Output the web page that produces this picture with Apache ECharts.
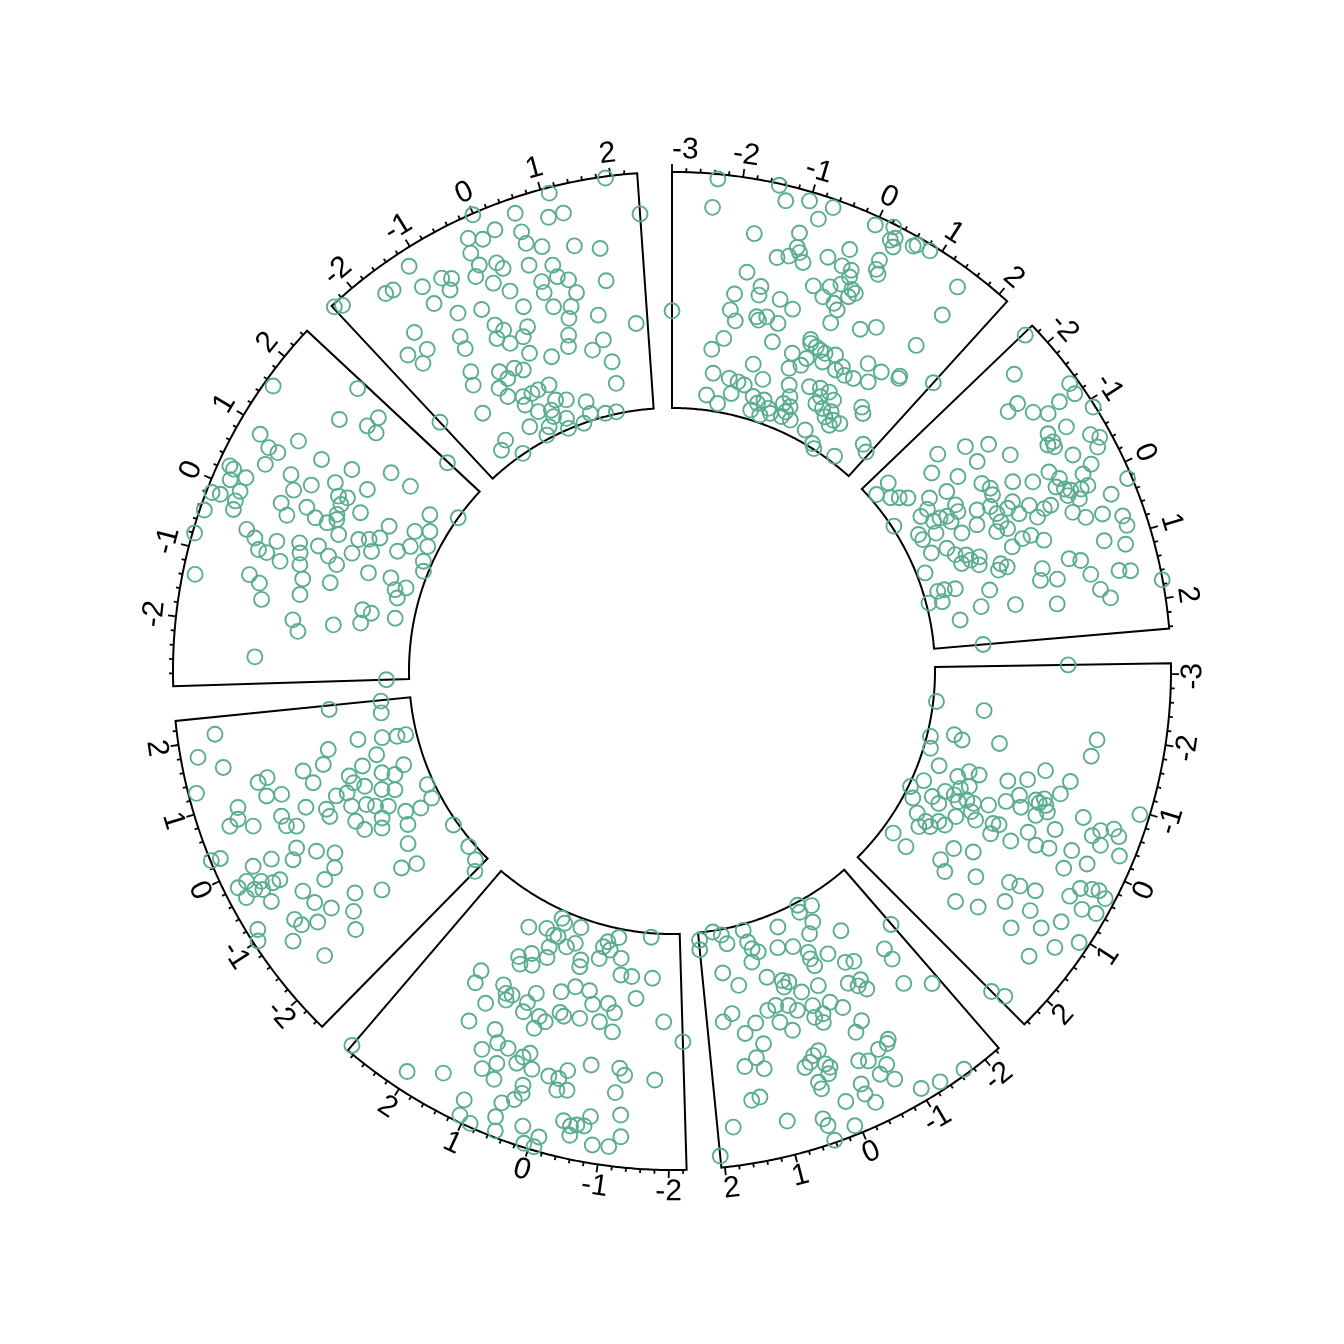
<!DOCTYPE html>
<html><head><meta charset="utf-8">
<script src="https://cdn.jsdelivr.net/npm/echarts/dist/echarts.min.js"></script>
<style>html,body{margin:0;padding:0;background:#fff}#c{width:1344px;height:1344px}</style>
</head><body><div id="c"></div>
<script>
// ---- data ----
const sectorNames = ['a','b','c','d','e','f','g','h'];
const xlims = [[-3.0,2.15],[-2.32,2.43],[-3.15,2.46],[-2.25,2.05],[-2.25,2.90],[-2.51,2.34],[-2.98,2.48],[-2.38,2.38]];
const ylim = [-2.95, 2.95];
const majorTicks = [
  [-3,-2,-1,0,1,2],[-2,-1,0,1,2],[-3,-2,-1,0,1,2],[-2,-1,0,1,2],
  [-2,-1,0,1,2],[-2,-1,0,1,2],[-2,-1,0,1,2],[-2,-1,0,1,2]
];
const pointsA = [[-2.35,2.83],[-2.39,2.11],[-1.48,2.91],[-1.34,2.57],[-1.01,2.72],[-0.66,2.74],[-0.81,2.35],[-1.70,1.60],[-1.02,1.88],[-0.99,1.52],[-0.93,1.41],[-1.08,1.25],[-1.26,1.14],[-0.83,1.20],[-0.48,1.53],[-0.21,1.91],[-1.70,0.62],[-0.22,1.46],[-0.06,1.45],[-0.54,0.73],[-0.27,0.86],[-0.12,1.03],[-0.04,1.28],[0.08,1.02],[0.16,0.97],[0.08,0.82],[-1.85,0.03],[-1.41,0.12],[-1.41,0.34],[-1.02,0.15],[-0.75,0.01],[-0.32,0.56],[-0.10,0.52],[0.00,0.40],[-1.88,-0.38],[-1.75,-0.63],[-1.36,-0.42],[-1.31,-0.49],[-1.17,-0.36],[-0.93,-0.44],[-0.01,0.04],[0.52,0.23],[0.75,0.47],[-0.01,2.73],[0.24,2.88],[0.28,2.55],[0.33,2.65],[0.36,2.43],[0.61,2.69],[0.65,2.76],[0.85,2.80],[0.29,1.74],[0.27,1.98],[0.35,1.65],[1.47,2.44],[1.54,1.65],[-3.00,-0.52],[1.50,0.65],[-2.14,-1.42],[-1.92,-1.11],[-1.19,-1.59],[-0.93,-0.92],[-0.23,-0.54],[-0.20,-0.63],[-0.07,-0.66],[0.03,-0.69],[0.14,-0.71],[-0.47,-1.03],[-0.16,-1.02],[-0.21,-1.23],[-0.42,-1.41],[0.17,-0.93],[0.34,-0.63],[0.48,-0.96],[0.57,-0.81],[0.69,-0.97],[0.88,-0.92],[0.97,-0.41],[1.17,-0.79],[1.27,-0.40],[1.60,-0.21],[1.61,-0.27],[-2.04,-2.01],[-1.65,-2.07],[-1.43,-2.11],[-1.27,-2.15],[-0.89,-1.89],[-2.13,-2.57],[-1.82,-2.74],[-1.53,-2.43],[-0.99,-2.37],[-0.84,-2.50],[-0.71,-2.37],[-0.54,-2.53],[-0.95,-2.71],[-0.69,-2.76],[-0.45,-2.63],[-0.16,-2.60],[0.08,-2.59],[-0.24,-2.28],[-0.06,-2.29],[-0.11,-2.45],[-0.28,-1.80],[-0.16,-2.06],[0.15,-1.63],[0.38,-1.54],[0.59,-1.52],[0.47,-1.73],[0.76,-1.64],[0.45,-1.93],[0.64,-1.96],[0.85,-1.92],[0.79,-2.11],[1.00,-2.07],[1.17,-2.05],[0.98,-2.23],[0.53,-2.64],[0.87,-2.84],[0.97,-2.93],[1.53,-2.79],[1.36,-1.40],[1.46,-1.51],[1.90,-2.11],[2.07,-2.21],[2.15,0.20]];
const pointsB = [[-2.29,2.66],[-1.97,1.80],[-1.35,2.74],[-1.19,2.70],[-0.89,2.90],[-1.58,1.40],[-1.57,1.09],[-1.32,1.58],[-1.17,1.87],[-1.22,2.27],[-0.85,2.07],[-0.91,1.59],[-0.76,1.59],[-0.76,1.44],[-0.68,1.56],[-0.57,2.49],[-0.47,2.66],[-0.36,2.50],[-0.95,0.51],[-0.43,1.86],[-0.18,2.16],[-0.10,1.87],[-0.37,1.13],[-0.52,0.22],[-0.35,0.66],[-0.20,1.29],[-0.10,1.12],[-0.01,1.29],[0.05,1.42],[0.11,1.30],[0.10,1.67],[0.09,1.86],[0.35,2.31],[0.23,2.84],[-0.20,-0.02],[-0.13,-0.20],[-0.01,0.32],[0.05,0.00],[0.15,0.63],[0.24,0.39],[0.14,0.81],[0.39,1.25],[0.23,1.53],[0.54,1.51],[0.58,1.93],[0.71,2.39],[0.86,2.42],[0.05,-0.50],[0.22,-0.41],[0.50,-0.16],[0.50,0.07],[0.66,0.33],[0.58,-0.47],[0.98,1.76],[1.12,2.25],[1.10,0.79],[1.18,1.06],[1.44,1.22],[1.48,1.93],[1.52,2.21],[0.82,-0.88],[0.92,-0.75],[1.14,0.08],[1.34,-0.04],[1.39,0.38],[1.71,1.38],[1.87,1.59],[1.74,2.94],[1.69,-0.78],[1.82,0.25],[-1.54,-0.29],[-1.32,0.21],[-1.76,-0.95],[-1.18,-0.27],[-1.53,-1.36],[-1.15,-0.88],[-1.98,-2.36],[-1.95,-2.77],[-1.02,-1.32],[-0.78,-0.47],[-0.62,-0.35],[-0.49,-0.38],[-1.40,-2.21],[-1.11,-1.77],[-1.66,-2.55],[-1.53,-2.38],[-1.02,-2.90],[-0.86,-2.20],[-0.92,-1.97],[-0.61,-1.99],[-0.60,-1.81],[-0.56,-1.64],[-0.41,-1.61],[-0.53,-1.34],[-0.68,-1.31],[-0.37,-0.90],[-0.31,-0.57],[-0.13,-0.50],[-0.51,-2.48],[-0.35,-2.45],[-0.34,-2.08],[-0.08,-1.50],[-0.10,-1.07],[0.19,-0.69],[0.04,-2.40],[0.09,-2.00],[0.30,-1.87],[0.40,-1.62],[0.54,-1.56],[0.54,-1.33],[0.70,-1.40],[0.54,-1.80],[0.93,-0.98],[0.44,-2.74],[0.99,-2.59],[1.00,-2.42],[1.05,-2.15],[1.22,-2.88],[1.27,-2.55],[1.28,-1.33],[1.59,-1.63],[1.80,-2.21],[2.43,-1.72]];
const pointsC = [[-3.15,0.38],[-1.52,-1.14],[-1.92,1.24],[-1.64,1.17],[-1.22,0.14],[-0.97,-0.23],[-0.83,-0.69],[-1.15,0.81],[-0.90,0.66],[-0.44,-0.56],[-0.64,-0.30],[-0.44,-0.16],[-0.66,0.13],[-0.63,0.23],[-0.73,0.32],[-0.63,0.41],[-0.53,0.50],[-0.40,0.26],[0.03,-0.49],[-0.65,1.39],[-0.96,2.71],[-0.07,0.25],[0.21,-0.05],[-0.30,0.84],[-0.43,1.76],[-0.55,1.91],[-0.64,2.21],[-0.56,2.39],[-0.34,2.04],[0.08,0.56],[0.03,0.89],[-0.09,1.43],[-0.30,2.58],[0.22,1.44],[0.00,1.92],[0.87,0.43],[0.83,0.70],[1.19,0.60],[0.76,1.09],[0.56,1.90],[0.38,2.04],[0.31,2.31],[0.28,2.48],[0.34,2.71],[0.64,2.33],[0.59,2.69],[1.08,1.25],[1.49,1.11],[1.21,1.72],[0.96,2.05],[1.07,2.71],[1.33,2.28],[1.67,1.90],[2.37,2.11],[-2.24,-2.87],[-2.16,-1.66],[-1.31,-2.86],[-1.01,-2.78],[-1.49,-2.29],[-1.41,-2.07],[-0.66,-2.44],[-0.57,-1.91],[-0.76,-1.68],[-0.76,-1.42],[-0.17,-2.66],[0.11,-2.90],[0.35,-2.72],[0.10,-2.30],[0.18,-2.08],[-0.14,-2.06],[-0.15,-1.82],[-0.34,-1.74],[-0.45,-1.55],[-0.05,-1.66],[-0.16,-1.48],[-0.15,-1.29],[0.03,-1.26],[-0.24,-0.93],[0.63,-2.44],[0.70,-2.15],[0.89,-2.23],[0.75,-1.99],[0.55,-1.87],[0.55,-1.69],[0.27,-1.55],[0.15,-1.07],[0.06,-0.64],[0.26,-0.58],[1.38,-2.67],[1.46,-2.21],[1.24,-1.32],[1.39,-1.06],[0.89,-1.20],[0.74,-0.74],[1.12,-0.35],[1.73,-0.39],[1.55,0.14],[2.46,1.79]];
const pointsD = [[-0.70,-2.88],[-0.66,-2.70],[-1.01,-2.70],[-0.83,-2.33],[0.00,-2.60],[-1.29,-1.78],[-0.63,-2.11],[1.66,-2.92],[1.45,-2.81],[2.03,-2.76],[2.05,-2.52],[0.87,-2.80],[0.84,-2.49],[1.35,-2.57],[0.78,-2.30],[0.66,-2.18],[0.87,-1.98],[0.19,-2.12],[-0.15,-2.00],[-0.41,-1.71],[-0.39,-1.54],[-0.41,-1.34],[-0.78,-1.45],[-1.01,-1.05],[-1.17,-0.96],[-1.82,-0.78],[-1.82,-0.46],[1.58,-1.87],[1.28,-1.49],[0.64,-1.51],[0.35,-1.31],[0.23,-1.22],[0.36,-1.14],[0.06,-0.87],[-0.30,-0.85],[-0.85,-0.56],[-1.09,-0.48],[-0.99,-0.38],[-1.10,-0.20],[-1.72,0.20],[-2.11,0.64],[1.73,-0.66],[1.53,-0.83],[1.11,-0.48],[0.82,-0.71],[0.64,-0.77],[0.40,-0.67],[0.27,-0.48],[0.66,-0.34],[0.48,-0.05],[-0.04,-0.45],[0.01,-0.16],[-0.16,-0.16],[-0.37,-0.35],[-0.54,-0.09],[-0.10,0.04],[-0.73,0.42],[1.35,-0.28],[-0.55,0.61],[-0.97,1.15],[1.06,0.07],[1.24,0.37],[1.47,0.53],[1.15,0.68],[0.17,0.65],[0.28,0.72],[0.37,0.85],[0.14,1.02],[0.09,1.14],[0.15,1.28],[0.48,0.93],[0.35,1.39],[0.34,1.57],[-0.38,1.28],[-0.52,1.39],[-0.75,1.25],[-0.92,1.23],[-0.75,1.68],[-0.59,1.82],[-0.75,2.10],[-0.26,1.83],[-0.25,2.10],[-0.34,2.40],[0.06,2.08],[1.46,1.39],[1.32,1.35],[1.81,1.98],[0.99,2.09],[0.47,2.29],[0.43,2.49],[0.41,2.89],[0.07,2.73],[-1.02,2.63],[-1.30,2.74],[-1.68,2.82],[2.05,2.66],[-2.24,-1.15]];
const pointsE = [[1.52,-2.19],[1.12,-2.37],[0.90,-2.29],[0.88,-2.76],[0.77,-2.67],[0.79,-2.30],[0.34,-2.72],[-1.50,-2.85],[-0.67,-2.73],[-0.42,-2.57],[-0.34,-2.42],[-0.52,-2.38],[0.34,-2.30],[0.51,-2.14],[0.88,-1.97],[1.40,-1.42],[1.30,-1.27],[1.18,-1.64],[1.06,-1.38],[0.83,-1.71],[0.09,-1.95],[0.07,-1.78],[-0.31,-2.11],[-0.82,-2.23],[-0.88,-1.82],[-1.13,-1.82],[-1.60,-1.83],[1.92,-0.64],[1.89,-0.31],[1.40,-0.62],[1.28,-0.46],[1.16,-0.49],[1.22,-0.31],[0.83,-0.48],[0.83,-0.23],[0.74,-0.78],[0.28,-1.04],[0.03,-1.27],[-0.28,-1.27],[-1.28,-1.29],[1.53,0.00],[-0.41,-0.96],[-0.72,-1.06],[-0.88,-0.86],[0.17,-0.54],[0.08,-0.48],[-0.23,-0.54],[0.52,-0.27],[0.38,-0.20],[1.63,0.59],[-0.62,-0.57],[-1.88,-0.75],[1.16,0.47],[-0.90,-0.38],[0.53,0.05],[2.90,2.79],[2.04,2.48],[1.57,2.04],[1.21,1.06],[1.07,1.49],[0.89,1.22],[0.83,1.61],[0.82,0.76],[1.02,0.74],[0.59,1.02],[0.53,0.82],[0.44,0.67],[0.32,1.03],[0.02,1.06],[-0.15,1.05],[-0.26,0.80],[-0.63,0.53],[-1.13,0.49],[-1.23,0.65],[-1.75,0.71],[1.11,2.39],[1.07,2.78],[0.89,2.86],[0.59,2.46],[0.52,2.79],[0.58,2.08],[0.42,1.89],[0.37,1.48],[0.34,1.68],[0.17,2.45],[0.08,2.85],[-0.07,2.86],[-0.10,2.59],[-0.17,1.34],[-0.33,1.28],[-0.39,2.04],[-0.51,2.13],[-0.60,2.07],[-0.71,2.06],[-0.78,1.80],[-0.53,2.36],[-0.88,2.49],[-1.12,2.47],[-1.11,1.11],[-1.24,1.65],[-1.28,2.19],[-2.25,-0.25]];
const pointsF = [[2.08,2.01],[1.78,2.52],[1.56,1.95],[1.28,2.75],[1.20,1.19],[1.24,0.94],[0.95,1.08],[0.90,0.71],[1.19,0.03],[0.93,-0.13],[1.21,-0.50],[1.47,-0.71],[2.26,-0.90],[0.91,1.85],[0.68,2.19],[0.74,1.94],[0.56,1.64],[0.55,0.89],[0.37,0.86],[0.30,0.63],[-0.04,0.85],[-0.19,1.06],[0.55,0.24],[0.23,-0.23],[0.38,-0.22],[0.31,2.93],[0.29,2.70],[-0.03,1.54],[-0.01,2.03],[-0.17,2.34],[-0.33,2.25],[-0.27,2.01],[-0.38,2.53],[-0.20,2.60],[-0.39,2.07],[-0.37,1.77],[-0.38,1.58],[-0.61,2.03],[-0.24,0.44],[-0.42,0.05],[-0.65,0.24],[-0.74,0.60],[-0.72,1.22],[-0.98,1.12],[-1.21,0.85],[-0.86,2.68],[-1.00,2.83],[-1.03,1.77],[-1.16,1.70],[-1.27,1.33],[-1.29,2.11],[-1.76,1.70],[2.32,-2.21],[2.04,-2.18],[1.54,-1.49],[1.46,-2.09],[1.41,-2.46],[1.40,-2.68],[1.11,-1.85],[0.69,-2.42],[0.96,-1.43],[0.68,-1.84],[0.54,-2.13],[0.84,-1.04],[0.68,-1.09],[0.53,-1.32],[0.33,-1.69],[0.21,-1.99],[0.53,-0.85],[0.55,-0.57],[0.25,-0.83],[0.16,-1.19],[0.05,-1.38],[-0.07,-1.67],[-0.24,-1.40],[-0.35,-2.00],[-0.45,-2.37],[0.00,-2.78],[-0.36,-2.73],[-0.06,-0.77],[-0.29,-0.88],[-0.43,-1.28],[-0.64,-1.89],[-1.25,-2.84],[-1.01,-1.64],[-1.94,-2.81],[-2.31,-2.71],[-2.51,-2.50],[-1.36,-1.16],[-1.48,-1.53],[-1.48,-0.44],[-1.23,0.15],[-1.48,0.45],[-1.75,0.69]];
const pointsG = [[1.57,2.73],[1.76,0.90],[0.88,2.35],[0.77,2.00],[0.77,1.74],[0.52,1.88],[1.09,1.44],[1.03,0.71],[0.27,2.66],[0.25,2.54],[0.09,2.51],[0.21,2.17],[-0.01,2.17],[-0.17,2.19],[-0.30,2.16],[-0.16,2.60],[-0.18,2.81],[-0.45,2.84],[-0.80,2.90],[0.56,1.19],[0.35,0.96],[0.56,0.62],[0.80,0.12],[0.61,-0.11],[0.07,1.11],[-0.08,0.86],[0.18,0.48],[0.07,0.18],[-0.52,1.68],[-0.61,1.42],[-0.77,1.25],[-0.78,1.03],[-0.55,0.87],[-0.86,0.65],[-0.45,0.32],[-0.62,0.23],[-0.82,0.15],[-0.39,-0.15],[-0.51,-0.47],[-0.62,-0.73],[0.07,-0.14],[0.20,-0.33],[-0.05,-0.52],[-1.06,-0.01],[-1.00,-0.70],[-1.20,1.31],[-1.30,1.02],[-1.56,0.89],[-1.35,-0.03],[-1.37,2.64],[-1.83,0.04],[-2.03,-0.12],[-1.82,-0.98],[-2.53,0.91],[2.35,1.04],[1.97,0.25],[2.21,0.17],[1.97,-0.03],[2.46,-1.87],[1.16,-0.07],[1.53,-0.93],[1.53,-1.52],[0.99,-0.66],[0.66,-0.33],[0.49,-0.26],[0.52,-0.79],[0.29,-0.28],[0.01,-1.03],[0.10,-1.27],[0.22,-1.50],[-0.12,-1.44],[-0.30,-1.00],[0.54,-1.58],[0.71,-2.21],[1.24,-2.32],[0.89,-2.54],[1.58,-2.95],[0.11,-2.04],[0.34,-2.28],[0.53,-2.67],[-0.58,-1.55],[-0.53,-2.12],[0.14,-2.73],[-0.10,-2.83],[-0.77,-2.31],[-0.65,-2.56],[-0.95,-2.42],[-1.40,-1.64],[-1.44,-1.87],[-1.70,-1.65],[-1.45,-2.48],[-2.98,-2.38]];
const pointsH = [[-1.16,2.54],[-1.67,2.32],[-1.55,2.28],[-1.16,1.93],[-0.84,1.86],[-0.71,1.73],[-0.82,1.50],[-0.01,2.92],[-0.21,2.43],[-0.02,2.26],[0.20,2.36],[-0.27,2.07],[-0.23,1.71],[0.03,1.58],[0.09,1.39],[-0.36,1.49],[-0.15,1.15],[0.05,0.80],[0.56,2.57],[0.56,2.08],[0.57,1.77],[1.11,2.81],[1.01,2.23],[1.24,2.24],[0.79,1.57],[0.50,1.23],[0.87,1.05],[0.89,0.74],[1.06,0.59],[0.61,0.74],[0.59,0.46],[1.29,1.38],[1.69,1.19],[1.14,0.23],[1.70,0.37],[1.93,2.91],[2.38,1.93],[-2.36,2.89],[-2.26,2.78],[-1.15,1.42],[-0.90,0.90],[-0.52,0.69],[-1.68,1.11],[0.16,0.31],[0.67,0.05],[0.98,-0.07],[0.88,-0.34],[1.44,-0.44],[2.15,-0.79],[-0.44,0.19],[-0.34,-0.02],[-0.52,-0.13],[-0.34,-0.39],[-0.06,-0.38],[0.09,-0.19],[-1.08,0.37],[-1.12,0.05],[-2.00,0.77],[-1.89,0.37],[-1.68,0.58],[-1.27,-0.51],[-1.38,-0.82],[-0.79,-0.89],[-0.71,-1.14],[-0.49,-0.99],[-0.08,-0.82],[-0.34,-1.13],[0.31,-1.11],[0.78,-0.74],[0.71,-1.01],[1.17,-1.26],[1.44,-1.07],[1.53,-1.65],[1.53,-2.20],[-0.97,-1.24],[-0.90,-1.53],[-0.61,-1.72],[-0.66,-1.93],[-0.40,-1.75],[-0.24,-1.74],[0.03,-1.74],[0.03,-2.15],[-0.46,-2.23],[-0.16,-2.34],[0.27,-2.25],[0.71,-2.46],[-0.18,-2.51],[0.10,-2.68],[0.48,-2.95],[0.72,-2.77],[1.10,-2.87],[1.39,-2.90],[0.05,-2.93],[-1.56,-1.53],[-0.39,-2.69],[-0.54,-2.85],[-0.82,-2.46],[-1.50,-2.41],[-1.73,-2.55],[-1.33,-2.93],[-2.38,-1.02]];
const sectorPoints = [pointsA,pointsB,pointsC,pointsD,pointsE,pointsF,pointsG,pointsH];

// ---- layout (circlize-like) ----
const CX = 672, CY = 671, R0 = 263, R1 = 499;
const GAP = 4, START = 90;
const POINT_COLOR = '#5AAD90';
const FONT_SIZE = 30;
const FONT_FAMILY = '"Liberation Sans", Arial, Helvetica, sans-serif';
const ranges = xlims.map(l => l[1] - l[0]);
const degPerUnit = (360 - GAP * xlims.length) / ranges.reduce((a, b) => a + b, 0);
const sectorAngles = [];
let cur = START;
for (let i = 0; i < xlims.length; i++) {
  const s = cur, e = cur - ranges[i] * degPerUnit;
  sectorAngles.push([s, e]);
  cur = e - GAP;
}
const measureCtx = document.createElement('canvas').getContext('2d');
measureCtx.font = FONT_SIZE + 'px ' + FONT_FAMILY;
function textWidth(t) { return measureCtx.measureText(t).width; }

function makeFrame(i) {
  return function (params, api) {
    const cs = params.coordSys;
    const cx = cs.cx, cy = cs.cy;
    const [x0, x1] = xlims[i];
    const children = [];
    const outer = [], inner = [];
    const N = 100;
    for (let k = 0; k <= N; k++) {
      const v = x0 + (x1 - x0) * k / N;
      outer.push(api.coord([ylim[1], v]));
      inner.push(api.coord([ylim[0], v]));
    }
    children.push({
      type: 'polygon', shape: { points: outer.concat(inner.reverse()) },
      style: { fill: 'none', stroke: '#000', lineWidth: 2, lineJoin: 'miter' }
    });
    const kStart = Math.ceil(x0 * 5 - 1e-9), kEnd = Math.floor(x1 * 5 + 1e-9);
    const majors = majorTicks[i];
    for (let k = kStart; k <= kEnd; k++) {
      const v = k / 5;
      const isMajor = majors.indexOf(v) >= 0;
      const p = api.coord([ylim[1], v]);
      const dx = p[0] - cx, dy = p[1] - cy;
      const d = Math.hypot(dx, dy);
      const ux = dx / d, uy = dy / d;
      const len = isMajor ? 8 : 4;
      children.push({
        type: 'line',
        shape: { x1: p[0], y1: p[1], x2: p[0] + ux * len, y2: p[1] + uy * len },
        style: { stroke: '#000', lineWidth: 1.8 }
      });
    }
    const labelR = R1 + 22;
    majors.forEach(function (v, j) {
      const txt = String(v);
      const hu = (textWidth(txt) / 2 / labelR) * 180 / Math.PI / degPerUnit;
      let pos = v;
      if (j === 0 && v - hu < x0) pos = x0 + hu;
      if (j === majors.length - 1 && v + hu > x1) pos = x1 - hu;
      const p = api.coord([ylim[1], pos]);
      const dx = p[0] - cx, dy = p[1] - cy;
      const d = Math.hypot(dx, dy);
      const ux = dx / d, uy = dy / d;
      const theta = Math.atan2(-uy, ux);
      const rot = theta >= 0 ? theta - Math.PI / 2 : theta + Math.PI / 2;
      children.push({
        type: 'text', x: cx + ux * labelR, y: cy + uy * labelR, rotation: rot,
        style: {
          text: txt, fill: '#000', fontSize: FONT_SIZE, fontFamily: FONT_FAMILY,
          align: 'center', verticalAlign: 'middle'
        }
      });
    });
    return { type: 'group', children: children };
  };
}

const polar = [], angleAxis = [], radiusAxis = [], series = [];
for (let i = 0; i < xlims.length; i++) {
  polar.push({ center: [CX, CY], radius: [R0, R1] });
  angleAxis.push({
    polarIndex: i, type: 'value', min: xlims[i][0], max: xlims[i][1],
    startAngle: sectorAngles[i][0], endAngle: sectorAngles[i][1], clockwise: true,
    axisLine: { show: false }, axisTick: { show: false }, axisLabel: { show: false },
    splitLine: { show: false }, minorTick: { show: false }, minorSplitLine: { show: false }
  });
  radiusAxis.push({
    polarIndex: i, type: 'value', min: ylim[0], max: ylim[1],
    axisLine: { show: false }, axisTick: { show: false }, axisLabel: { show: false },
    splitLine: { show: false }
  });
  series.push({
    type: 'custom', coordinateSystem: 'polar', polarIndex: i, data: [[0, 0]],
    renderItem: makeFrame(i), silent: true, z: 1, clip: false
  });
  series.push({
    name: sectorNames[i], type: 'scatter', coordinateSystem: 'polar', polarIndex: i,
    data: sectorPoints[i].map(p => [p[1], p[0]]),
    symbol: 'circle', symbolSize: 15, silent: true, z: 2,
    itemStyle: { color: 'rgba(0,0,0,0)', borderColor: POINT_COLOR, borderWidth: 1.9, opacity: 1 }
  });
}

const chart = echarts.init(document.getElementById('c'), null, { renderer: 'canvas' });
chart.setOption({
  backgroundColor: '#ffffff',
  animation: false,
  polar: polar, angleAxis: angleAxis, radiusAxis: radiusAxis,
  series: series
});
</script>
</body></html>
